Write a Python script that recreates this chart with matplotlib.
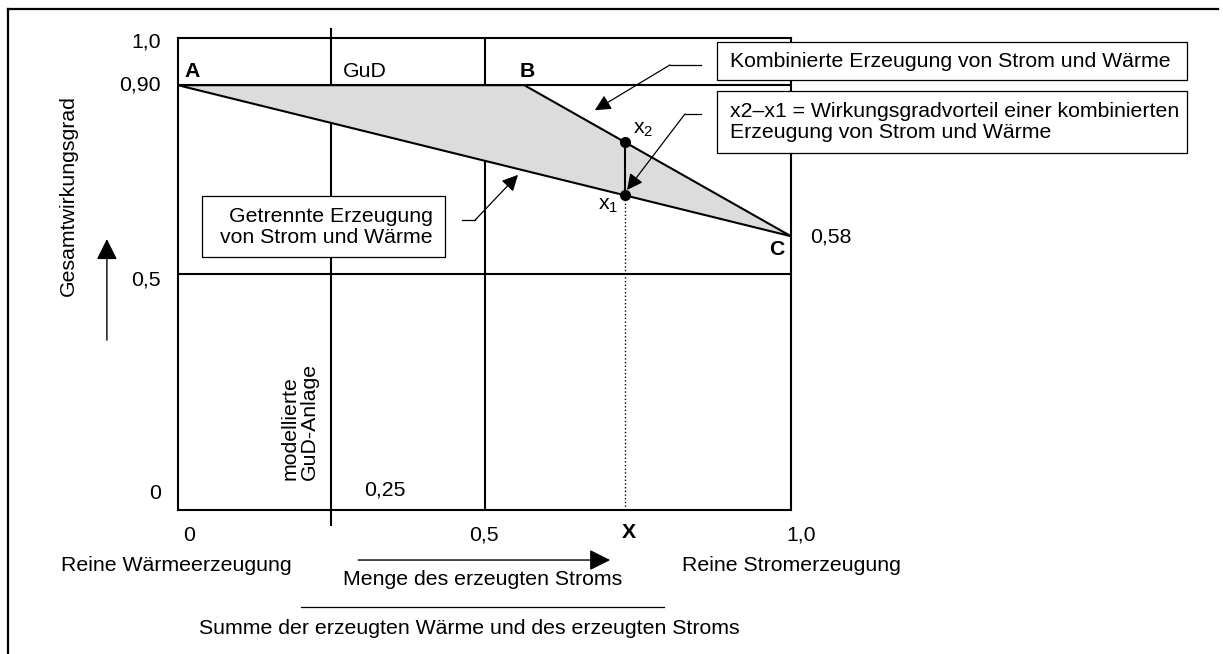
import matplotlib
matplotlib.use("Agg")
import matplotlib.pyplot as plt
from matplotlib.patches import Rectangle, Polygon
from matplotlib.lines import Line2D

plt.rcParams['font.family'] = ['Liberation Sans', 'DejaVu Sans']
plt.rcParams['mathtext.fontset'] = 'custom'
plt.rcParams['mathtext.rm'] = 'Liberation Sans'
plt.rcParams['mathtext.it'] = 'Liberation Sans'

# key points of the efficiency diagram (share of electricity, overall efficiency)
point_names = ['A', 'B', 'C']
point_x = [0.0, 0.565, 1.0]
point_y = [0.90, 0.90, 0.58]
x_marker = 0.73          # position X
gud_share = 0.25         # modelled GuD plant
grid_x = [0.25, 0.5]
grid_y = [0.5, 0.9]
y_tick_vals = [1.0, 0.90, 0.5, 0.0]
y_tick_labels = ['1,0', '0,90', '0,5', '0']
x_tick_vals = [0.0, 0.5, 1.0]
x_tick_labels = ['0', '0,5', '1,0']

fs = 15.3
W, H = 1223, 654
fig = plt.figure(figsize=(W / 100, H / 100), dpi=100)
ax = fig.add_axes([178 / W, 1 - 510 / H, 613 / W, 472 / H])
ax.set_xlim(0, 1)
ax.set_ylim(0, 1)
ax.set_xticks([])
ax.set_yticks([])
for s in ax.spines.values():
    s.set_linewidth(1.5)

lw = 1.5

# shaded area between separate and combined generation
ax.add_patch(Polygon(list(zip(point_x, point_y)), closed=True, fc='#dcdcdc',
                     ec='black', lw=lw, zorder=2))

# grid lines
for gy in grid_y:
    ax.plot([0, 1], [gy, gy], color='black', lw=lw, zorder=1)
ax.plot([0.5, 0.5], [0, 1], color='black', lw=lw, zorder=1)
ax.plot([gud_share, gud_share], [-0.032, 1.019], color='black', lw=lw,
        zorder=1, clip_on=False)

# x1 on A-C, x2 on B-C
ax_, ay = point_x[0], point_y[0]
bx, by = point_x[1], point_y[1]
cx, cy = point_x[2], point_y[2]
y1 = ay + (cy - ay) * (x_marker - ax_) / (cx - ax_)
y2 = by + (cy - by) * (x_marker - bx) / (cx - bx)
ax.plot([x_marker, x_marker], [0, y1], color='black', lw=1, ls=':', zorder=3)
ax.plot([x_marker, x_marker], [y1, y2], color='black', lw=lw, zorder=3)
ax.plot([x_marker, x_marker], [y1, y2], 'o', color='black', ms=7, zorder=4)
ax.text(x_marker + 0.012, y2 + 0.028, r'x$_\mathregular{2}$', fontsize=fs,
        ha='left', va='center')
ax.text(x_marker - 0.028, y1 - 0.022, r'x$_\mathregular{1}$', fontsize=fs,
        ha='center', va='center')

# point labels
ax.text(0.023, 0.928, point_names[0], fontsize=fs, fontweight='bold',
        ha='center', va='center')
ax.text(0.569, 0.928, point_names[1], fontsize=fs, fontweight='bold',
        ha='center', va='center')
ax.text(0.977, 0.551, point_names[2], fontsize=fs, fontweight='bold',
        ha='center', va='center')
ax.text(0.305, 0.928, 'GuD', fontsize=fs, ha='center', va='center')
ax.text(1.031, 0.578, '0,58', fontsize=fs, ha='left', va='center')
ax.text(0.338, 0.042, '0,25', fontsize=fs, ha='center', va='center')
ax.text(0.199, 0.064, 'modellierte\nGuD-Anlage', fontsize=fs, rotation=90,
        ha='center', va='bottom', multialignment='left', linespacing=1.0)

# tick labels
ypos = {1.0: 0.992, 0.90: 0.90, 0.5: 0.487, 0.0: 0.036}
for v, lab in zip(y_tick_vals, y_tick_labels):
    ax.text(-0.028, ypos[v], lab, fontsize=fs, ha='right', va='center')
xpos = {0.0: 0.018, 0.5: 0.499, 1.0: 1.016}
for v, lab in zip(x_tick_vals, x_tick_labels):
    ax.text(xpos[v], -0.053, lab, fontsize=fs, ha='center', va='center',
            clip_on=False)
ax.text(0.736, -0.047, 'X', fontsize=fs, fontweight='bold', ha='center',
        va='center')

# annotation boxes
def box(x0, y0, x1, y1):
    ax.add_patch(Rectangle((x0, y0), x1 - x0, y1 - y0, fc='white', ec='black',
                           lw=0.9, zorder=5, clip_on=False))

box(0.039, 0.536, 0.436, 0.665)
ax.text(0.415, 0.600, 'Getrennte Erzeugung\nvon Strom und Wärme', fontsize=fs,
        ha='right', va='center', multialignment='right', zorder=6,
        linespacing=1.1)
box(0.879, 0.911, 1.646, 0.992)
ax.text(0.9005, 0.951, 'Kombinierte Erzeugung von Strom und Wärme', fontsize=fs,
        ha='left', va='center', zorder=6)
box(0.879, 0.756, 1.646, 0.888)
ax.text(0.9005, 0.822,
        'x2\u2013x1 = Wirkungsgradvorteil einer kombinierten\n'
        'Erzeugung von Strom und Wärme', fontsize=fs, ha='left', va='center',
        zorder=6, linespacing=1.1)

# pointer arrows
def pointer(xs, ys, head):
    ax.plot(xs, ys, color='black', lw=0.9, clip_on=False, zorder=5)
    ax.annotate('', xy=head, xytext=(xs[-1], ys[-1]),
                arrowprops=dict(arrowstyle='-|>', color='black', lw=0.9,
                                mutation_scale=24, shrinkA=0, shrinkB=0),
                annotation_clip=False, zorder=5)

pointer([0.853, 0.8026], [0.943, 0.943], (0.680, 0.847))
pointer([0.853, 0.827], [0.839, 0.839], (0.7325, 0.678))
pointer([0.463, 0.4845], [0.614, 0.614], (0.5546, 0.710))

# y axis label and arrow
ax.text(-0.179, 0.667, 'Gesamtwirkungsgrad', fontsize=fs, rotation=90,
        ha='center', va='center')
ax.annotate('', xy=(-0.116, 0.574), xytext=(-0.116, 0.36),
            arrowprops=dict(arrowstyle='-|>', color='black', lw=1,
                            mutation_scale=32, shrinkA=0, shrinkB=0),
            annotation_clip=False)

# x axis description
ax.text(0.185, -0.117, 'Reine Wärmeerzeugung', fontsize=fs, ha='right',
        va='center')
ax.text(0.822, -0.117, 'Reine Stromerzeugung', fontsize=fs, ha='left',
        va='center')
ax.annotate('', xy=(0.705, -0.106), xytext=(0.294, -0.106),
            arrowprops=dict(arrowstyle='-|>', color='black', lw=1,
                            mutation_scale=32, shrinkA=0, shrinkB=0),
            annotation_clip=False)
ax.text(0.4976, -0.148, 'Menge des erzeugten Stroms', fontsize=fs,
        ha='center', va='center')
ax.plot([0.2007, 0.793], [-0.2055, -0.2055], color='black', lw=0.9,
        clip_on=False)
ax.text(0.476, -0.25, 'Summe der erzeugten Wärme und des erzeugten Stroms',
        fontsize=fs, ha='center', va='center')

# outer frame (top and left edges)
fig.add_artist(Line2D([8 / W, 1218 / W], [1 - 9 / H, 1 - 9 / H],
                      color='black', lw=1.6))
fig.add_artist(Line2D([8 / W, 8 / W], [1 - 9 / H, 0], color='black', lw=1.6))

fig.savefig('out.png', dpi=100)
